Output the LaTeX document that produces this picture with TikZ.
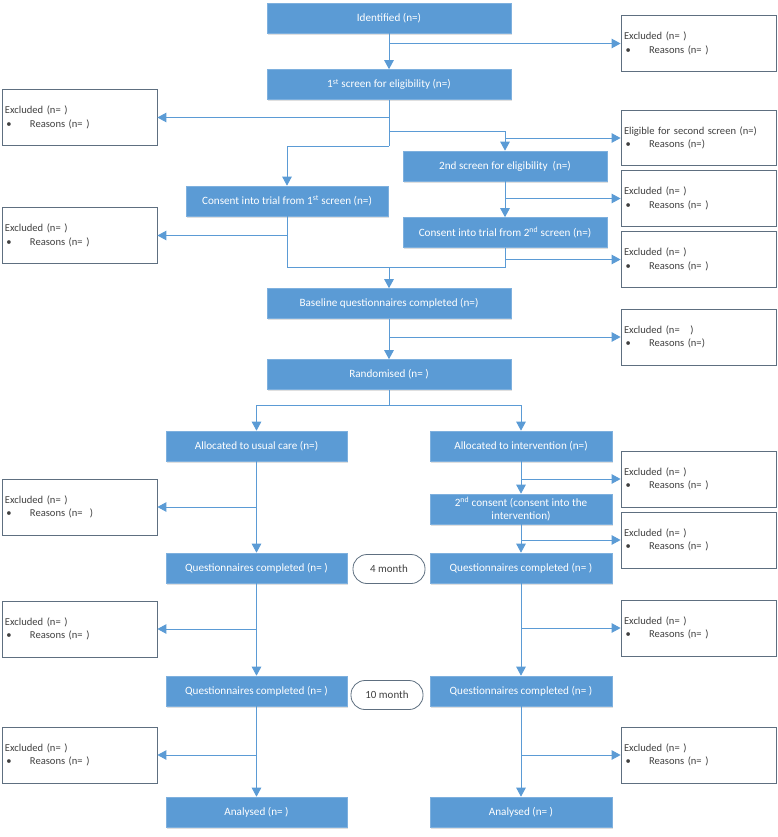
\documentclass[tikz,border=0pt]{standalone}
\usepackage{fontspec}
\setmainfont{Carlito}
\usetikzlibrary{arrows.meta,shadows}

\definecolor{flowblue}{HTML}{5B9BD5}
\definecolor{flowedge}{HTML}{7EB0DE}
\definecolor{boxedge}{HTML}{5E6F80}
\definecolor{boxtext}{HTML}{404040}

% two line content of an exclusion box
\newcommand{\exclnote}[2]{#1\\\makebox[25bp][l]{\hspace{1.5bp}\textbullet}#2}

\tikzset{
  stage/.style={draw=flowedge, line width=0.6bp, fill=flowblue, text=white,
    minimum height=30bp, inner sep=2bp, align=center,
    font=\fontsize{11.2}{13.5}\selectfont,
    drop shadow={shadow xshift=1bp, shadow yshift=-1.5bp, opacity=0.25}},
  exclbox/.style={draw=boxedge, line width=0.8bp, fill=white, text=boxtext,
    minimum height=56bp, text width=149bp, inner xsep=3bp, align=left,
    font=\fontsize{10.6}{13.5}\selectfont},
  timept/.style={draw=boxedge, line width=0.8bp, rounded corners=14bp, text=boxtext,
    minimum width=72bp, minimum height=29bp, font=\fontsize{11}{13}\selectfont},
  link/.style={flowblue, line width=1bp},
  arr/.style={link, -{Triangle[length=9bp,width=9.5bp]}},
}

\begin{document}
\begin{tikzpicture}[x=1bp, y=-1bp]
\useasboundingbox (0,0) rectangle (778,837);

% screening stages
\node[stage, minimum width=244bp] (id)   at (389,18)    {Identified (n=)};
\node[stage, minimum width=244bp] (s1)   at (389,84.5)  {1\textsuperscript{st} screen for eligibility (n=)};
\node[stage, minimum width=204bp] (s2)   at (505,166)   {2nd screen for eligibility~ (n=)};
\node[stage, minimum width=202bp] (c1)   at (287,201)   {Consent into trial from 1\textsuperscript{st} screen (n=)};
\node[stage, minimum width=204bp] (c2)   at (505,232.5) {Consent into trial from 2\textsuperscript{nd} screen (n=)};
\node[stage, minimum width=244bp] (base) at (389,303.5) {Baseline questionnaires completed (n=)};
\node[stage, minimum width=244bp] (rand) at (389,374.5) {Randomised (n= )};

% trial arms
\node[stage, minimum width=181bp] (alu)   at (256.5,446) {Allocated to usual care (n=)};
\node[stage, minimum width=182bp] (ali)   at (521,446)   {Allocated to intervention (n=)};
\node[stage, minimum width=182bp] (cons2) at (521,509)   {2\textsuperscript{nd} consent (consent into the\\intervention)};
\node[stage, minimum width=181bp] (q4l)   at (256.5,568) {Questionnaires completed (n= )};
\node[stage, minimum width=182bp] (q4r)   at (521,568)   {Questionnaires completed (n= )};
\node[stage, minimum width=181bp] (q10l)  at (256.5,691) {Questionnaires completed (n= )};
\node[stage, minimum width=182bp] (q10r)  at (521,691)   {Questionnaires completed (n= )};
\node[stage, minimum width=181bp] (anl)   at (256.5,812) {Analysed (n= )};
\node[stage, minimum width=182bp] (anr)   at (521,812)   {Analysed (n= )};

% follow-up time points
\node[timept] (p4)  at (389,569) {4 month};
\node[timept] (p10) at (387,695) {10 month};

% exclusion boxes
\node[exclbox] (exr1) at (698.5,43.5) {\exclnote{Excluded (n= )}{Reasons (n= )}};
\node[exclbox] (exl1) at (79.5,117.5) {\exclnote{Excluded (n= )}{Reasons (n= )}};
\node[exclbox, minimum height=55bp] (elig) at (698.5,138) {\exclnote{Eligible for second screen (n=)}{Reasons (n=)}};
\node[exclbox] (exr2) at (698.5,198.5) {\exclnote{Excluded (n= )}{Reasons (n= )}};
\node[exclbox] (exl2) at (79.5,235.5) {\exclnote{Excluded (n= )}{Reasons (n= )}};
\node[exclbox] (exr3) at (698.5,259.5) {\exclnote{Excluded (n= )}{Reasons (n= )}};
\node[exclbox] (exr4) at (698.5,337)   {\exclnote{Excluded (n=~~~)}{Reasons (n=)}};
\node[exclbox] (exr5) at (698.5,479)   {\exclnote{Excluded (n= )}{Reasons (n= )}};
\node[exclbox] (exl3) at (79.5,507)    {\exclnote{Excluded (n= )}{Reasons (n=~~)}};
\node[exclbox] (exr6) at (698.5,540)   {\exclnote{Excluded (n= )}{Reasons (n= )}};
\node[exclbox] (exl4) at (79.5,629)    {\exclnote{Excluded (n= )}{Reasons (n= )}};
\node[exclbox] (exr7) at (698.5,628)   {\exclnote{Excluded (n= )}{Reasons (n= )}};
\node[exclbox] (exl5) at (79.5,755)    {\exclnote{Excluded (n= )}{Reasons (n= )}};
\node[exclbox] (exr8) at (698.5,755)   {\exclnote{Excluded (n= )}{Reasons (n= )}};

% junctions
\coordinate (j1) at (389,131);
\coordinate (j2) at (389,146);
\coordinate (j3) at (389,267);
\coordinate (j4) at (389,405);

% main flow
\foreach \a/\b in {id/s1, s2/c2, base/rand, alu/q4l, ali/cons2, cons2/q4r,
                   q4l/q10l, q4r/q10r, q10l/anl, q10r/anr}
  \draw[arr] (\a.south) -- (\b.north);
\draw[link] (s1.south) -- (j2);
\draw[arr] (j1) -| (s2.north);
\draw[arr] (j2) -| (c1.north);
\draw[link] (c1.south) |- (c2.south |- j3) -- (c2.south);
\draw[arr] (j3) -- (base.north);
\draw[link] (rand.south) -- (j4);
\draw[arr] (j4) -| (alu.north);
\draw[arr] (j4) -| (ali.north);

% branches to the exclusion boxes
\foreach \a/\b/\side in {id/exr1/west, s1/exl1/east, s2/elig/west, s2/exr2/west,
                         c1/exl2/east, c2/exr3/west, base/exr4/west, alu/exl3/east,
                         ali/exr5/west, cons2/exr6/west, q4l/exl4/east, q4r/exr7/west,
                         q10l/exl5/east, q10r/exr8/west}
  \draw[arr] (\a.south |- \b.\side) -- (\b.\side);
\end{tikzpicture}
\end{document}
